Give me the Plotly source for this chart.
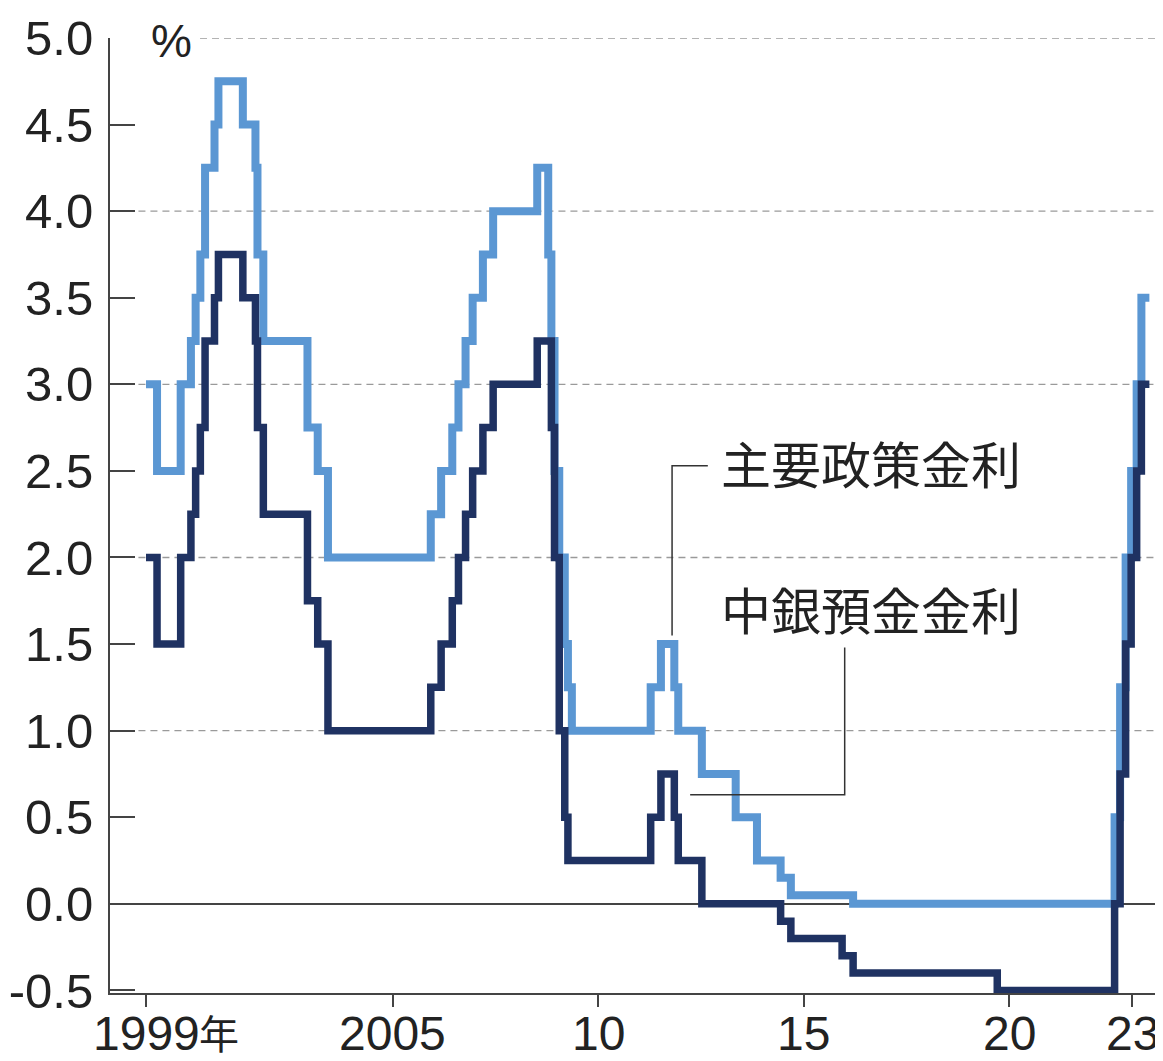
import pandas as pd
import plotly.graph_objects as go

# 主要政策金利 (main refinancing rate), %
mro_dates = ["1999-01-01", "1999-04-09", "1999-11-05", "2000-02-04", "2000-03-17", "2000-04-28",
             "2000-06-09", "2000-09-01", "2000-10-06", "2001-05-11", "2001-08-31", "2001-09-18",
             "2001-11-09", "2002-12-06", "2003-03-07", "2003-06-06", "2005-12-06", "2006-03-08",
             "2006-06-15", "2006-08-09", "2006-10-11", "2006-12-13", "2007-03-14", "2007-06-13",
             "2008-07-09", "2008-10-15", "2008-11-12", "2008-12-10", "2009-01-21", "2009-03-11",
             "2009-04-08", "2009-05-13", "2011-04-13", "2011-07-13", "2011-11-09", "2011-12-14",
             "2012-07-11", "2013-05-08", "2013-11-13", "2014-06-11", "2014-09-10", "2016-03-16",
             "2022-07-27", "2022-09-14", "2022-11-02", "2022-12-21", "2023-02-08", "2023-03-22",
             "2023-06-01"]
mro_values = [3.0, 2.5, 3.0, 3.25, 3.5, 3.75,
              4.25, 4.5, 4.75, 4.5, 4.25, 3.75,
              3.25, 2.75, 2.5, 2.0, 2.25, 2.5,
              2.75, 3.0, 3.25, 3.5, 3.75, 4.0,
              4.25, 3.75, 3.25, 2.5, 2.0, 1.5,
              1.25, 1.0, 1.25, 1.5, 1.25, 1.0,
              0.75, 0.5, 0.25, 0.15, 0.05, 0.0,
              0.5, 1.25, 2.0, 2.5, 3.0, 3.5,
              3.5]

# 中銀預金金利 (deposit facility rate), %
dep_dates = ["1999-01-01", "1999-04-09", "1999-11-05", "2000-02-04", "2000-03-17", "2000-04-28",
             "2000-06-09", "2000-09-01", "2000-10-06", "2001-05-11", "2001-08-31", "2001-09-18",
             "2001-11-09", "2002-12-06", "2003-03-07", "2003-06-06", "2005-12-06", "2006-03-08",
             "2006-06-15", "2006-08-09", "2006-10-11", "2006-12-13", "2007-03-14", "2007-06-13",
             "2008-07-09", "2008-11-12", "2008-12-10", "2009-01-21", "2009-03-11", "2009-04-08",
             "2011-04-13", "2011-07-13", "2011-11-09", "2011-12-14", "2012-07-11", "2014-06-11",
             "2014-09-10", "2015-12-09", "2016-03-16", "2019-09-18", "2022-07-27", "2022-09-14",
             "2022-11-02", "2022-12-21", "2023-02-08", "2023-03-22", "2023-06-01"]
dep_values = [2.0, 1.5, 2.0, 2.25, 2.5, 2.75,
              3.25, 3.5, 3.75, 3.5, 3.25, 2.75,
              2.25, 1.75, 1.5, 1.0, 1.25, 1.5,
              1.75, 2.0, 2.25, 2.5, 2.75, 3.0,
              3.25, 2.75, 2.0, 1.0, 0.5, 0.25,
              0.5, 0.75, 0.5, 0.25, 0.0, -0.1,
              -0.2, -0.3, -0.4, -0.5, 0.0, 0.75,
              1.5, 2.0, 2.5, 3.0, 3.0]

x_tickvals = [1999, 2005, 2010, 2015, 2020, 2023]
x_ticktext = ["1999", "2005", "10", "15", "20", "23"]
y_tickvals = [-0.5, 0.0, 0.5, 1.0, 1.5, 2.0, 2.5, 3.0, 3.5, 4.0, 4.5, 5.0]
grid_values = [1.0, 2.0, 3.0, 4.0, 5.0]

label_main = "主要政策金利"
label_dep = "中銀預金金利"


def to_decimal_year(dates):
    d = pd.to_datetime(pd.Series(dates))
    days = d.dt.is_leap_year.map({True: 366, False: 365})
    return (d.dt.year + (d.dt.dayofyear - 1) / days).tolist()


LIGHT = "#5b97d3"
DARK = "#1f3262"
TXT = "#222222"
NUM_FONT = "Liberation Sans, Arial, sans-serif"
CJK_FONT = "Noto Sans CJK JP, sans-serif"

fig = go.Figure()
fig.add_trace(go.Scatter(x=to_decimal_year(mro_dates), y=mro_values, mode="lines",
                         line=dict(color=LIGHT, width=8, shape="hv"), name=label_main,
                         showlegend=False))
fig.add_trace(go.Scatter(x=to_decimal_year(dep_dates), y=dep_values, mode="lines",
                         line=dict(color=DARK, width=7.5, shape="hv"), name=label_dep,
                         showlegend=False))

shapes = []
for g in grid_values:
    shapes.append(dict(type="line", xref="paper", yref="y",
                       x0=0.0855 if g == 5.0 else 0.027, x1=1.0, y0=g, y1=g,
                       line=dict(color="#9a9a9a", width=1.3, dash="7px,5px"), layer="below"))
# leader lines
shapes.append(dict(type="path", xref="x", yref="y",
                   path="M 2012.67,2.53 L 2011.80,2.53 L 2011.80,1.55",
                   line=dict(color="#333", width=1.5)))
shapes.append(dict(type="path", xref="x", yref="y",
                   path="M 2016.0,1.48 L 2016.0,0.63 L 2012.24,0.63",
                   line=dict(color="#333", width=1.5)))

annotations = [
    dict(text="%", xref="paper", yref="y", x=0.037, y=4.98, xanchor="left", yanchor="middle",
         showarrow=False, font=dict(family=NUM_FONT, size=46, color=TXT)),
    dict(text=label_main, xref="x", yref="y", x=2012.95, y=2.55, xanchor="left", yanchor="middle",
         showarrow=False, font=dict(family=CJK_FONT, size=50, color=TXT)),
    dict(text=label_dep, xref="x", yref="y", x=2012.95, y=1.71, xanchor="left", yanchor="middle",
         showarrow=False, font=dict(family=CJK_FONT, size=50, color=TXT)),
    dict(text="年", xref="x", yref="paper", x=2000.25, y=-0.041, xanchor="left", yanchor="middle",
         showarrow=False, font=dict(family=CJK_FONT, size=40, color=TXT)),
]
for tv, tt in zip(x_tickvals, x_ticktext):
    annotations.append(dict(text=tt, xref="x", yref="paper", x=tv, y=-0.042,
                            xanchor="center", yanchor="middle", showarrow=False,
                            font=dict(family=NUM_FONT, size=48, color=TXT)))

# page body has an 8px default margin: figure is sized so it ends at the window edge
fig.update_layout(
    width=1155, height=1053,
    margin=dict(l=102, r=0, t=30, b=68, autoexpand=False),
    paper_bgcolor="white", plot_bgcolor="white",
    shapes=shapes, annotations=annotations,
    xaxis=dict(range=[1998.124, 2023.745], tickmode="array", tickvals=x_tickvals,
               showticklabels=False, showgrid=False, zeroline=False, automargin=False,
               showline=True, linecolor="#444", linewidth=2,
               ticks="outside", ticklen=12, tickwidth=2, tickcolor="#444"),
    yaxis=dict(range=[-0.515, 5.0], tickmode="array", tickvals=y_tickvals,
               ticktext=[f"{v:.1f}" for v in y_tickvals], showgrid=False, automargin=False,
               zeroline=True, zerolinecolor="#444", zerolinewidth=1.5,
               showline=True, linecolor="#444", linewidth=2,
               ticks="inside", ticklen=25, tickwidth=2, tickcolor="#444",
               tickfont=dict(family=NUM_FONT, size=49, color=TXT), ticklabelstandoff=5),
)

fig.write_html("out.html")
